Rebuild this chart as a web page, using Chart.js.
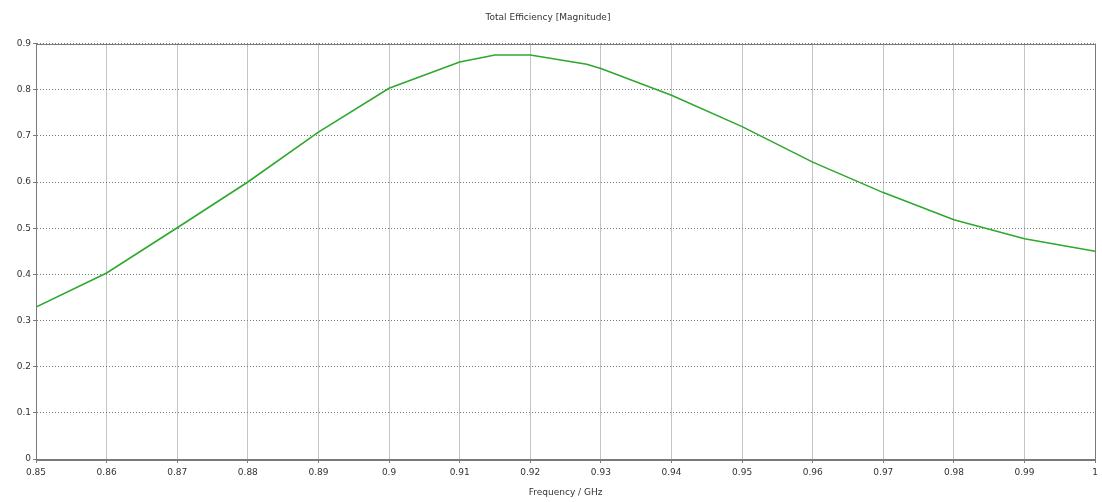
<!DOCTYPE html>
<html>
<head>
<meta charset="utf-8">
<script src="https://cdn.jsdelivr.net/npm/chart.js@4"></script>
<style>
html,body{margin:0;padding:0;background:#fff}
#wrap{width:1102px;height:502px}
</style>
</head>
<body>
<div id="wrap"><canvas id="eff" width="1102" height="502"></canvas></div>
<script>
// data
const freq = [0.85,0.86,0.87,0.88,0.89,0.90,0.91,0.915,0.92,0.928,0.93,0.94,0.95,0.96,0.97,0.98,0.99,1.0]
const efficiency = [0.329,0.403,0.501,0.600,0.708,0.803,0.860,0.875,0.875,0.855,0.846,0.788,0.720,0.643,0.577,0.518,0.477,0.450]

const xTickLabels = ["0.85","0.86","0.87","0.88","0.89","0.9","0.91","0.92","0.93","0.94","0.95","0.96","0.97","0.98","0.99","1"]
const yTickLabels = ["0","0.1","0.2","0.3","0.4","0.5","0.6","0.7","0.8","0.9"]

const FONT = "DejaVu Sans"

// solid frame round the plot area
const frame = {
id:"frame",
afterDraw(chart){
const a = chart.chartArea, ctx = chart.ctx
ctx.save()
ctx.strokeStyle = "#7a7a7a"
ctx.lineWidth = 1
ctx.strokeRect(Math.round(a.left)+0.5, Math.round(a.top)+0.5, Math.round(a.right-a.left), Math.round(a.bottom-a.top))
ctx.restore()
}
}

new Chart(document.getElementById("eff"),{
type:"line",
data:{
datasets:[{
data: freq.map((f,i)=>({x:f,y:efficiency[i]})),
borderColor:"#2ea82e",
borderWidth:1.6,
pointRadius:0,
tension:0,
fill:false
}]
},
options:{
responsive:false,
animation:false,
layout:{padding:{left:0,right:6,top:0,bottom:0}},
plugins:{
legend:{display:false},
tooltip:{enabled:false},
title:{
display:true,
text:"Total Efficiency [Magnitude]",
color:"#333",
font:{family:FONT,size:9,weight:"normal"},
padding:{top:12,bottom:20.7}
}
},
scales:{
x:{
type:"linear",
min:0.85,
max:1,
afterBuildTicks(s){ s.ticks = xTickLabels.map(t=>({value:parseFloat(t)})) },
afterFit(s){ s.height = 43 },
ticks:{
color:"#333",
font:{family:FONT,size:9},
padding:4,
maxRotation:0,
autoSkip:false,
callback:(v,i)=>xTickLabels[i]
},
grid:{color:"#8a8a8a",tickLength:4,tickColor:"#7a7a7a"},
border:{color:"#7a7a7a",dash:[1,1]},
title:{
display:true,
text:"Frequency / GHz",
color:"#333",
font:{family:FONT,size:9},
padding:{top:0,bottom:3.6}
}
},
y:{
min:0,
max:0.9,
afterBuildTicks(s){ s.ticks = yTickLabels.map(t=>({value:parseFloat(t)})) },
afterFit(s){ s.width = 36 },
ticks:{
color:"#333",
font:{family:FONT,size:9},
padding:2,
callback:(v,i)=>yTickLabels[i]
},
grid:{color:"#7a7a7a",tickLength:3,tickColor:"#7a7a7a"},
border:{color:"#7a7a7a",dash:[1,2]}
}
}
},
plugins:[frame]
})
</script>
</body>
</html>
